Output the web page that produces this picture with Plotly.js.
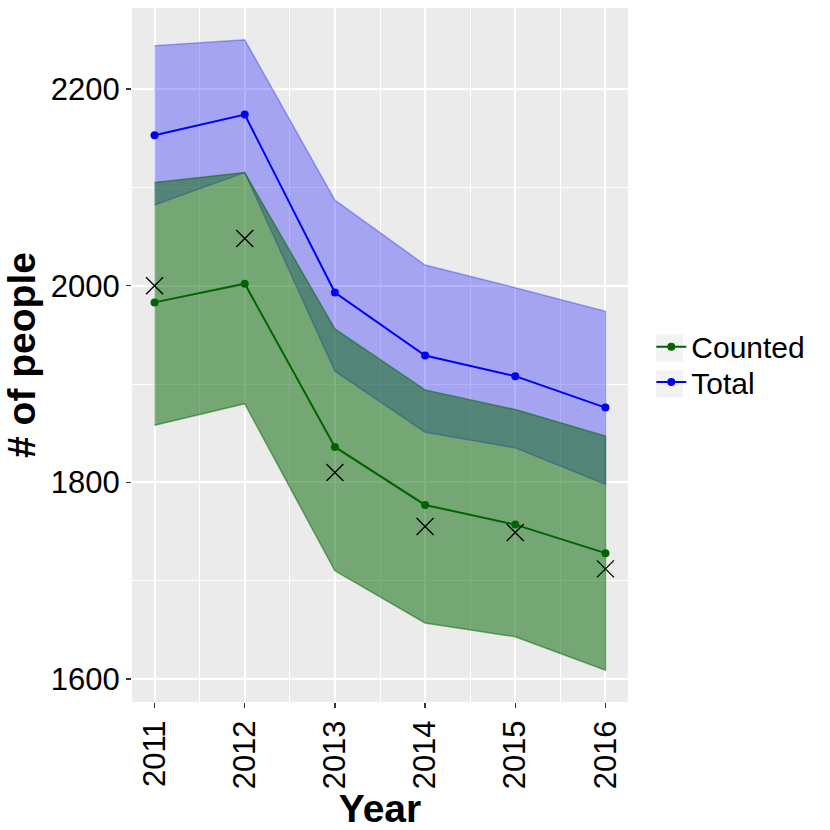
<!DOCTYPE html>
<html>
<head>
<meta charset="utf-8">
<script src="https://cdn.plot.ly/plotly-3.0.1.min.js"></script>
<style>html,body{margin:0;padding:0;background:#fff;}#chart{width:830px;height:830px;}</style>
</head>
<body>
<div id="chart"></div>
<script>
const years = [2011, 2012, 2013, 2014, 2015, 2016];
const totalMean = [2153, 2174, 1993, 1929, 1908, 1876];
const totalUpper = [2244, 2250, 2087, 2021, 1998, 1974];
const totalLower = [2082, 2115, 1913, 1851, 1835, 1798];
const countedMean = [1983, 2002, 1836, 1777, 1757, 1728];
const countedUpper = [2105, 2115, 1956, 1894, 1874, 1847];
const countedLower = [1858, 1880, 1710, 1657, 1643, 1609];
const observed = [2000, 2048, 1810, 1755, 1749, 1712];
const seriesNames = ['Counted', 'Total'];
const yTicks = [1600, 1800, 2000, 2200];

const rev = a => a.slice().reverse();
const font = 'Liberation Sans, Arial, Helvetica, sans-serif';

const traces = [
  {
    x: years.concat(rev(years)), y: totalUpper.concat(rev(totalLower)),
    type: 'scatter', mode: 'lines', fill: 'toself',
    fillcolor: 'rgba(0,0,255,0.3)', line: {color: 'rgba(0,0,255,0.3)', width: 1.5},
    showlegend: false, hoverinfo: 'skip'
  },
  {
    x: years.concat(rev(years)), y: countedUpper.concat(rev(countedLower)),
    type: 'scatter', mode: 'lines', fill: 'toself',
    fillcolor: 'rgba(0,100,0,0.5)', line: {color: 'rgba(0,100,0,0.5)', width: 1.5},
    showlegend: false, hoverinfo: 'skip'
  },
  {
    x: years, y: countedMean, name: seriesNames[0], type: 'scatter', mode: 'lines+markers',
    line: {color: '#006400', width: 2}, marker: {color: '#006400', size: 8},
    legend: 'legend'
  },
  {
    x: years, y: totalMean, name: seriesNames[1], type: 'scatter', mode: 'lines+markers',
    line: {color: '#0000FF', width: 2}, marker: {color: '#0000FF', size: 8},
    legend: 'legend2'
  },
  {
    x: years, y: observed, type: 'scatter', mode: 'markers', showlegend: false,
    marker: {symbol: 'x-thin-open', size: 17, color: '#000', line: {color: '#000', width: 1.3}}
  }
];

const legendCommon = {
  x: 1.047, xanchor: 'left', yanchor: 'middle',
  font: {size: 30, family: font, color: '#000'},
  bgcolor: 'rgba(0,0,0,0)', itemwidth: 30
};

const layout = {
  width: 830, height: 830,
  margin: {l: 132, r: 202, t: 8, b: 128},
  paper_bgcolor: '#ffffff',
  plot_bgcolor: '#EBEBEB',
  font: {family: font, color: '#000'},
  showlegend: true,
  legend: Object.assign({}, legendCommon, {y: 0.512}),
  legend2: Object.assign({}, legendCommon, {y: 0.461}),
  shapes: [
    {type: 'rect', xref: 'paper', yref: 'paper', x0: 1.0565, x1: 1.1109, y0: 0.4906, y1: 0.5295,
     fillcolor: '#F2F2F2', line: {width: 0}, layer: 'below'},
    {type: 'rect', xref: 'paper', yref: 'paper', x0: 1.0565, x1: 1.1109, y0: 0.4388, y1: 0.4777,
     fillcolor: '#F2F2F2', line: {width: 0}, layer: 'below'}
  ],
  xaxis: {
    range: [2010.75, 2016.25],
    tickvals: years, ticktext: years.map(String), tickangle: -90,
    tickfont: {size: 31, family: font, color: '#000'},
    ticks: 'outside', ticklen: 5, tickwidth: 1.5, tickcolor: '#333',
    showgrid: true, gridcolor: '#ffffff', gridwidth: 2,
    minor: {dtick: 0.5, tick0: 2010.5, showgrid: true, gridcolor: '#ffffff', gridwidth: 1},
    zeroline: false, showline: false,
    title: {text: '<b>Year</b>', font: {size: 39, family: font, color: '#000'}, standoff: 6}
  },
  yaxis: {
    range: [1576.6, 2282.4],
    tickvals: yTicks, ticktext: yTicks.map(String),
    tickfont: {size: 31, family: font, color: '#000'},
    ticks: 'outside', ticklen: 5, tickwidth: 1.5, tickcolor: '#333',
    showgrid: true, gridcolor: '#ffffff', gridwidth: 2,
    minor: {dtick: 100, tick0: 1500, showgrid: true, gridcolor: '#ffffff', gridwidth: 1},
    zeroline: false, showline: false,
    title: {text: '<b># of people</b>', font: {size: 39, family: font, color: '#000'}, standoff: 8}
  }
};

Plotly.newPlot('chart', traces, layout, {displayModeBar: false, staticPlot: true});
</script>
</body>
</html>
